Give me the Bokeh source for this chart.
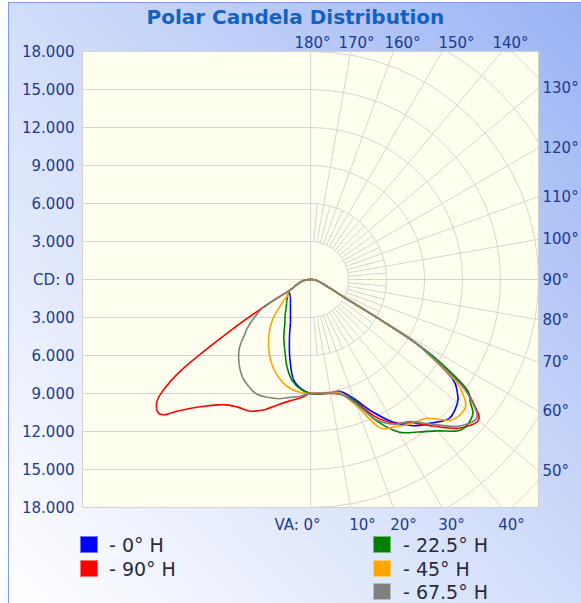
import math
from bokeh.plotting import figure
from bokeh.layouts import column
from bokeh.models import Range1d, LinearAxis, FixedTicker, Div
from bokeh.embed import file_html
from bokeh.resources import INLINE

# ---------------- data (candela vs vertical angle) ----------------
VA_RIGHT = [0, 5, 10, 15, 20, 25, 30, 35, 40, 45, 50, 52.5, 55, 57.5,
            59, 60, 61, 62.5, 65, 70, 75, 80, 85, 90]
VA_LEFT = [0, 5, 10, 15, 20, 25, 30, 35, 40, 45, 47.5, 50, 52.5, 55, 57.5, 60,
           62.5, 65, 70, 75, 80, 85, 90]

# right half of the diagram (plane C)
cd_0_right = [9000, 9030, 9080, 9150, 10000, 11500, 13000, 14100, 14800, 15500, 15150, 14600, 13700, 11200,
              9500, 6500, 4300, 2800, 1900, 1100, 750, 550, 350, 150]
cd_90_right = [9000, 9050, 9140, 9400, 10200, 11900, 13100, 13800, 15100, 16600, 17300, 16300, 14700, 11600,
               9500, 6500, 4300, 2800, 1900, 1100, 750, 550, 350, 150]
cd_22_right = [9000, 9050, 9100, 9350, 10200, 12300, 13900, 14700, 15600, 16800, 16700, 15900, 15000, 12000,
               9500, 6500, 4300, 2800, 1900, 1100, 750, 550, 350, 150]
cd_45_right = [9000, 9000, 9050, 9300, 10600, 12900, 13400, 13900, 14300, 15700, 15900, 15300, 14000, 11200,
               9500, 6500, 4300, 2800, 1900, 1100, 750, 550, 350, 150]
cd_67_right = [9000, 9000, 9100, 9400, 10400, 12200, 13200, 13700, 14900, 16400, 17100, 16200, 14500, 11400,
               9500, 6500, 4300, 2800, 1900, 1100, 750, 550, 350, 150]

# left half of the diagram (opposite plane C+180)
cd_0_left = [9000, 8650, 7930, 6330, 4850, 3750, 3170, 2760, 2460, 2240, 2150, 2090, 2040, 2000, 1980, 1960,
             1900, 1500, 1100, 850, 650, 400, 150]
cd_90_left = [9000, 9400, 9750, 10270, 10970, 11450, 11610, 12060, 13070, 14650, 15810, 15870, 14990, 12330, 7330, 3800,
              1900, 1500, 1100, 850, 650, 400, 150]
cd_22_left = [9000, 8700, 8150, 7150, 5930, 4990, 4050, 3500, 3000, 2670, 2550, 2410, 2300, 2220, 2120, 2050,
              1900, 1500, 1100, 850, 650, 400, 150]
cd_45_left = [9000, 8950, 8780, 8430, 7900, 7290, 6560, 5770, 4950, 4060, 3450, 2990, 2600, 2210, 2150, 2050,
              1900, 1500, 1100, 850, 650, 400, 150]
cd_67_left = [9000, 9250, 9450, 9750, 9900, 10000, 9750, 9380, 8770, 8000, 7450, 6800, 6280, 5600, 4900, 4100,
              1900, 1500, 1100, 850, 650, 400, 150]

series_labels = ["- 0° H", "- 90° H", "- 22.5° H", "- 45° H", "- 67.5° H"]
series_colors = ["#0000FF", "#FF0000", "#008000", "#FFA500", "#808080"]
series_right = [cd_0_right, cd_90_right, cd_22_right, cd_45_right, cd_67_right]
series_left = [cd_0_left, cd_90_left, cd_22_left, cd_45_left, cd_67_left]

cd_ticks = list(range(-18000, 18001, 3000))
cd_tick_labels = ["CD: 0" if v == 0 else f"{abs(v) // 1000}.000" for v in cd_ticks]
right_angles = [130, 120, 110, 100, 90, 80, 70, 60, 50]
top_labels = ["180°", "170°", "160°", "150°", "140°"]
bottom_labels = ["VA: 0°", "10°", "20°", "30°", "40°"]

# ---------------- layout constants ----------------
W, H = 581, 603
RMAX = 18000
FRAME = 456
FRAME_L, FRAME_T = 82, 51
SPAN = 2 * RMAX
MAIN_H = 537
LEG_H = H - MAIN_H


def page_x(px):
    return round((px - FRAME_L) / FRAME * SPAN - RMAX)


top_label_px = [312, 356, 402, 456, 510]
bottom_label_px = [297, 362, 403, 451, 511]
# legend: two columns (x of swatch centre, x of text) and row centres (page px)
leg_cols = [(89, 109), (382, 403)]
leg_rows = [545, 569, 592]
leg_slots = [(0, 0), (0, 1), (1, 0), (1, 1), (1, 2)]

GRID = "#D4D4D4"
TICK_COLOR = "#1E3A8F"
FONT = "DejaVu Sans"
EDGE = "#7C9BEA"

p = figure(frame_width=FRAME, frame_height=FRAME,
           x_range=Range1d(-RMAX, RMAX), y_range=Range1d(-RMAX, RMAX),
           x_axis_location=None, y_axis_location=None,
           toolbar_location=None, output_backend="svg",
           min_border_left=FRAME_L, min_border_top=FRAME_T,
           min_border_right=W - FRAME_L - FRAME,
           min_border_bottom=MAIN_H - FRAME_T - FRAME)
p.grid.visible = False
p.background_fill_color = "#FFFFF0"
p.border_fill_color = None
p.outline_line_color = "#D0D0D0"

# ---------------- title ----------------
p.title.text = "Polar Candela Distribution"
p.title.align = "left"
p.title.offset = 64
p.title.standoff = 3
p.title.text_font = FONT
p.title.text_font_size = "20px"
p.title.text_font_style = "bold"
p.title.text_color = "#1462C0"

# ---------------- polar grid ----------------
p.segment(x0=[-RMAX - 2000] * len(cd_ticks), y0=cd_ticks, x1=[0] * len(cd_ticks), y1=cd_ticks,
          line_color=GRID, line_width=1)
p.segment(x0=[0], y0=[-RMAX - 2000], x1=[0], y1=[RMAX + 2000], line_color=GRID, line_width=1)
radii = list(range(3000, 27001, 3000))
p.arc(x=[0] * len(radii), y=[0] * len(radii), radius=radii,
      start_angle=-math.pi / 2, end_angle=math.pi / 2, line_color=GRID, line_width=1)
major_va = list(range(10, 171, 10))
minor_va = list(range(5, 176, 10))


def ray(va_list, r0, r1):
    xs0, ys0, xs1, ys1 = [], [], [], []
    for a in va_list:
        t = math.radians(a)
        xs0.append(r0 * math.sin(t)); ys0.append(-r0 * math.cos(t))
        xs1.append(r1 * math.sin(t)); ys1.append(-r1 * math.cos(t))
    return xs0, ys0, xs1, ys1


a0, b0, a1, b1 = ray(major_va, 3000, 32000)
p.segment(x0=a0, y0=b0, x1=a1, y1=b1, line_color=GRID, line_width=1)
a0, b0, a1, b1 = ray(minor_va, 3000, 6000)
p.segment(x0=a0, y0=b0, x1=a1, y1=b1, line_color=GRID, line_width=1)

# ---------------- curves (smooth closed paths through the read points) ----------------
for col, right, left in zip(series_colors, series_right, series_left):
    pts = []
    for a, c in zip(VA_RIGHT, right):
        t = math.radians(a)
        pts.append((c * math.sin(t), -c * math.cos(t)))
    for a, c in reversed(list(zip(VA_LEFT, left))[1:]):
        t = math.radians(a)
        pts.append((-c * math.sin(t), -c * math.cos(t)))
    n = len(pts)
    x0, y0, x1, y1, cx0, cy0, cx1, cy1 = [], [], [], [], [], [], [], []
    for i in range(n):
        p0, p1, p2, p3 = pts[i - 1], pts[i], pts[(i + 1) % n], pts[(i + 2) % n]
        x0.append(p1[0]); y0.append(p1[1]); x1.append(p2[0]); y1.append(p2[1])
        cx0.append(p1[0] + (p2[0] - p0[0]) / 6); cy0.append(p1[1] + (p2[1] - p0[1]) / 6)
        cx1.append(p2[0] - (p3[0] - p1[0]) / 6); cy1.append(p2[1] - (p3[1] - p1[1]) / 6)
    p.bezier(x0=x0, y0=y0, x1=x1, y1=y1, cx0=cx0, cy0=cy0, cx1=cx1, cy1=cy1,
             line_color=col, line_width=1.6)


# ---------------- axes ----------------
def style_axis(ax, standoff):
    ax.axis_line_color = None
    ax.major_tick_line_color = None
    ax.minor_tick_line_color = None
    ax.major_tick_out = 0
    ax.major_tick_in = 0
    ax.minor_tick_out = 0
    ax.minor_tick_in = 0
    ax.major_label_standoff = standoff
    ax.major_label_text_font = FONT
    ax.major_label_text_font_size = "15px"
    ax.major_label_text_color = TICK_COLOR


left_ax = LinearAxis(ticker=FixedTicker(ticks=cd_ticks),
                     major_label_overrides={v: s for v, s in zip(cd_ticks, cd_tick_labels)})
style_axis(left_ax, 8)
p.add_layout(left_ax, "left")

right_ticks = [round(RMAX * math.tan(math.radians(a - 90))) for a in right_angles]
right_ax = LinearAxis(ticker=FixedTicker(ticks=right_ticks),
                      major_label_overrides={v: f"{a}°" for v, a in zip(right_ticks, right_angles)})
style_axis(right_ax, 4)
p.add_layout(right_ax, "right")

top_ticks = [page_x(v) for v in top_label_px]
top_ax = LinearAxis(ticker=FixedTicker(ticks=top_ticks),
                    major_label_overrides={v: s for v, s in zip(top_ticks, top_labels)})
style_axis(top_ax, 0)
p.add_layout(top_ax, "above")

bottom_ticks = [page_x(v) for v in bottom_label_px]
bottom_ax = LinearAxis(ticker=FixedTicker(ticks=bottom_ticks),
                       major_label_overrides={v: s for v, s in zip(bottom_ticks, bottom_labels)})
style_axis(bottom_ax, 8)
p.add_layout(bottom_ax, "below")

# ---------------- legend strip (two columns, HTML) ----------------
parts = []
for (c, r), lab, colr in zip(leg_slots, series_labels, series_colors):
    sx, tx = leg_cols[c]
    y = leg_rows[r] - MAIN_H
    parts.append(
        f'<span style="position:absolute;left:{sx - 9}px;top:{y - 9}px;width:18px;height:17px;'
        f'background:{colr};box-shadow:inset 0 0 0 1px rgba(255,255,255,0.45);"></span>')
    parts.append(
        f'<span style="position:absolute;left:{tx}px;top:{y - 12}px;height:24px;line-height:24px;'
        f"white-space:nowrap;font-family:'{FONT}';font-size:19px;color:#2A2A3A;\">{lab}</span>")
legend_div = Div(text=f'<div style="position:relative;width:{W}px;height:{LEG_H}px;">' + "".join(parts) + "</div>",
                 width=W, height=LEG_H, margin=(0, 0, 0, 0))

page = column(p, legend_div, spacing=0)
page.styles = {"background": (
    f"linear-gradient({EDGE},{EDGE}) 8px 2px / 1px 100% no-repeat, "
    f"linear-gradient({EDGE},{EDGE}) 8px 2px / 100% 1px no-repeat, "
    "linear-gradient(to top right, #FFFFFF 0%, #D2DDFA 50%, #9AB3F4 100%) 8px 2px / "
    "calc(100% - 8px) calc(100% - 2px) no-repeat, #FFFFFF")}

open("out.html", "w").write(file_html(page, INLINE))
